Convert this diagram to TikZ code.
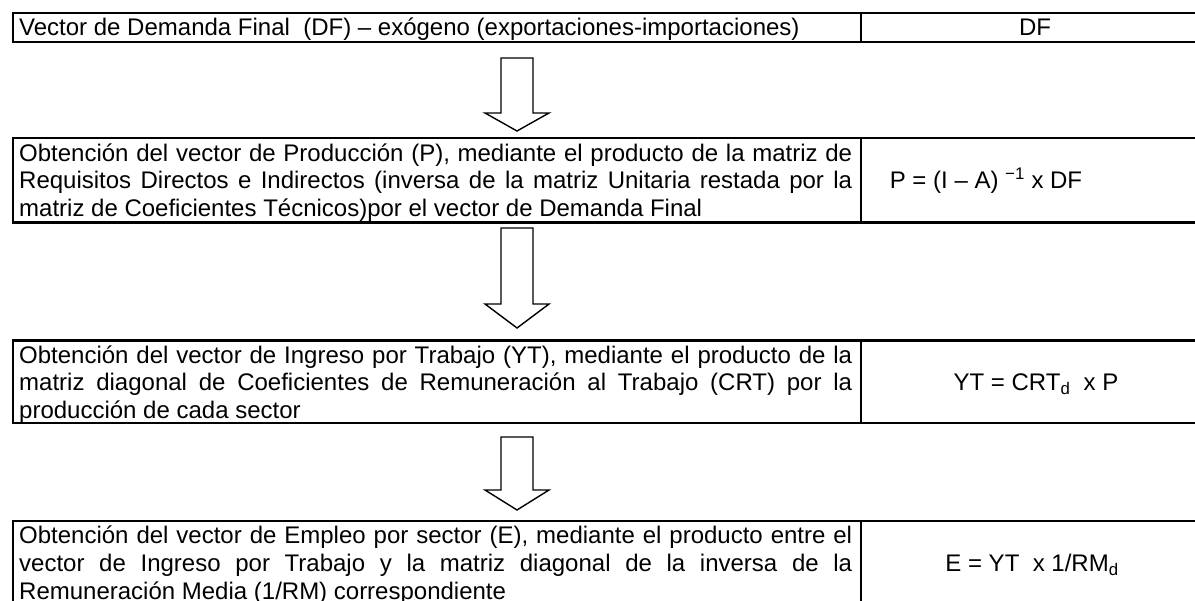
\documentclass[tikz,border=0pt]{standalone}
\usepackage{fontspec}
\setmainfont{Liberation Sans}
\newcommand{\fs}{\fontsize{24pt}{27.6pt}\selectfont}
\newcommand{\tstrut}{\rule{0pt}{21.7pt}}
\begin{document}
\begin{tikzpicture}[x=1pt,y=-1pt,
  tbl/.style={draw=black,line width=2.2pt},
  arr/.style={draw=black,line width=1.4pt,fill=white,line join=miter},
  txt/.style={inner sep=0pt,anchor=north west,text width=833pt,align=justify,font=\fs},
  frm/.style={inner sep=0pt,anchor=base,font=\fs}]
\useasboundingbox (0,0) rectangle (1195,601);
\clip (0,0) rectangle (1195,601);
\fill[white] (0,0) rectangle (1195,601);
% table rows
\coordinate (r1a) at (13,13);    \coordinate (r1b) at (1215,42.2);
\coordinate (r2a) at (13,138.2); \coordinate (r2b) at (1215,222.6);
\coordinate (r3a) at (13,340.5); \coordinate (r3b) at (1215,422.8);
\coordinate (r4a) at (13,521);   \coordinate (r4b) at (1215,612);
\draw[tbl] (r1a) rectangle (r1b) (861,13) -- (861,42.2);
\draw[tbl] (r2a) rectangle (r2b) (861,138.2) -- (861,222.6);
\draw[tbl] (r3a) rectangle (r3b) (861,340.5) -- (861,422.8);
\draw[tbl] (r4a) rectangle (r4b) (861,521) -- (861,612);
% texts
\node[txt] (t1) at (19,14) {\tstrut Vector de Demanda Final~ (DF) – exógeno (exportaciones-importaciones)};
\node[frm] (f1) at (1035,35.7) {DF};
\node[txt] (t2) at (19,139.2) {\tolerance=10000 \tstrut Obtención del vector de Producción (P), mediante el producto de la matriz de\linebreak
Requisitos Directos e Indirectos (inversa de la matriz Unitaria restada por la\linebreak
matriz de Coeficientes Técnicos)por el vector de Demanda Final};
\node[frm] (f2) at (986,188.3) {P = (I – A) \textsuperscript{\char"2212 1} x DF};
\node[txt] (t3) at (19,341.5) {\tolerance=10000 \tstrut Obtención del vector de Ingreso por Trabajo (YT), mediante el producto de la\linebreak
matriz diagonal de Coeficientes de Remuneración al Trabajo (CRT) por la\linebreak
producción de cada sector};
\node[frm] (f3) at (1036,390.8) {YT = CRT\textsubscript{d}~ x P};
\node[txt] (t4) at (19,522) {\tolerance=10000 \tstrut Obtención del vector de Empleo por sector (E), mediante el producto entre el\linebreak
vector de Ingreso por Trabajo y la matriz diagonal de la inversa de la\linebreak
Remuneración Media (1/RM) correspondiente};
\node[frm] (f4) at (1032,571.3) {E = YT~ x 1/RM\textsubscript{d}};
% block arrows
\draw[arr] (501,58) -- (533,58) -- (533,113) -- (549,113) -- (517,131) -- (485,113) -- (501,113) -- cycle;
\draw[arr] (501,228) -- (533,228) -- (533,304) -- (549,304) -- (517,328) -- (485,304) -- (501,304) -- cycle;
\draw[arr] (501,437) -- (533,437) -- (533,490) -- (549,490) -- (517,510) -- (485,490) -- (501,490) -- cycle;
\end{tikzpicture}
\end{document}
